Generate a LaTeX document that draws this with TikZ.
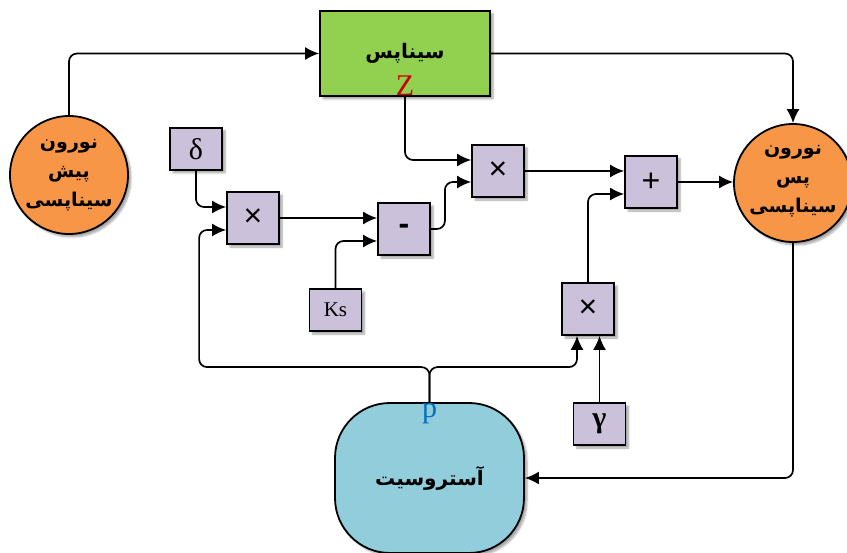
\documentclass[tikz,border=0pt]{standalone}
\usepackage{fontspec}
\setmainfont{Liberation Serif}
\newfontfamily\farsi[Script=Arabic]{DejaVu Sans}
\newfontfamily\opfont{Liberation Sans}
\TeXXeTstate=1
\usetikzlibrary{positioning,calc,arrows.meta,shadows.blur}

\definecolor{synGreen}{RGB}{146,208,80}
\definecolor{neuronOrange}{RGB}{247,150,70}
\definecolor{opLilac}{RGB}{204,193,218}
\definecolor{astroBlue}{RGB}{146,205,220}
\definecolor{zRed}{RGB}{200,0,0}
\definecolor{pBlue}{RGB}{0,112,192}

\tikzset{
  box/.style={draw, line width=1.8pt,
    blur shadow={shadow xshift=3pt, shadow yshift=-3pt, shadow blur steps=6, shadow opacity=35}},
  opbox/.style={box, fill=opLilac, minimum width=52pt, minimum height=52pt, inner sep=0pt,
    font=\opfont\fontsize{32}{34}\selectfont},
  constbox/.style={box, fill=opLilac, minimum width=52pt, minimum height=42pt, inner sep=0pt,
    font=\fontsize{30}{32}\selectfont},
  neuron/.style={box, circle, fill=neuronOrange, minimum size=118pt, inner sep=0pt, align=center,
    font=\farsi\bfseries\fontsize{19}{29}\selectfont},
  flow/.style={line width=1.7pt, rounded corners=8pt, -{Latex[length=14pt,width=13pt]}},
}

\begin{document}
\begin{tikzpicture}[x=1pt,y=-1pt]
	\useasboundingbox (0,0) rectangle (847,553);

	% neurones et synapse
	\node[neuron] (pre) at (69,175) {\beginR نورون\endR\\\beginR پیش\endR\\\beginR سیناپسی\endR};
	\node[neuron] (post) at (793,183) {\raisebox{8pt}{\beginR نورون\endR}\\\raisebox{8pt}{\beginR پس\endR}\\\raisebox{8pt}{\beginR سیناپسی\endR}};
	\node[box, fill=synGreen, minimum width=170pt, minimum height=85pt,
		font=\farsi\bfseries\fontsize{20}{20}\selectfont,
		label={[anchor=south, text=zRed, font=\fontsize{30}{30}\selectfont, inner sep=1pt]south:Z}]
		(syn) at (405,53.5) {\raisebox{-6pt}{\beginR سیناپس\endR}};
	\node[box, fill=astroBlue, rounded corners=55pt, minimum width=189pt, minimum height=150pt,
		font=\farsi\bfseries\fontsize{20}{20}\selectfont,
		label={[anchor=north, text=pBlue, font=\fontsize{30}{30}\selectfont, inner sep=1pt]north:p}]
		(astro) at (429.5,478) {\beginR آستروسیت\endR};

	% blocs de calcul
	\node[constbox] (delta) at (196,149) {δ};
	\node[opbox] (mulA) at (253,218) {×};
	\node[opbox] (sub) at (404,229) {\textbf{-}};
	\node[constbox, font=\fontsize{21}{22}\selectfont] (ks) at (335.5,310) {Ks};
	\node[opbox] (mulB) at (498,171) {×};
	\node[opbox] (add) at (651,182) {+};
	\node[opbox] (mulC) at (588,309) {×};
	\node[constbox] (gam) at (599.5,424) {\textbf{γ}};

	\coordinate (fork) at ($(astro.north)+(0,-35)$);

	% liaisons
	\draw[flow] (pre.north) |- (syn.west);
	\draw[flow] (syn.east) -| (post.north);
	\draw[flow] (syn.south) |- ($(mulB.west)+(0,-11)$);
	\draw[flow] (delta.south) |- ($(mulA.west)+(0,-11)$);
	\draw[flow] (mulA.east) -- (mulA.east -| sub.west);
	\draw[flow] (ks.north) |- ($(sub.west)+(0,12)$);
	\draw[flow] (sub.east) -- ++(14,0) |- ($(mulB.west)+(0,11)$);
	\draw[flow] (mulB.east) -- (mulB.east -| add.west);
	\draw[flow] (mulC.north) |- ($(add.west)+(0,12)$);
	\draw[flow] (add.east) -- (add.east -| post.west);
	\draw[flow] (post.south) |- (astro.east);
	\draw[flow] (astro.north) -- (fork) -| ($(mulA.west)+(-27,12)$) -- ($(mulA.west)+(0,12)$);
	\draw[flow] (astro.north) -- (fork) -| ($(mulC.south)+(-11,0)$);
	\draw[flow] (gam.north) -- (gam.north |- mulC.south);
\end{tikzpicture}
\end{document}
